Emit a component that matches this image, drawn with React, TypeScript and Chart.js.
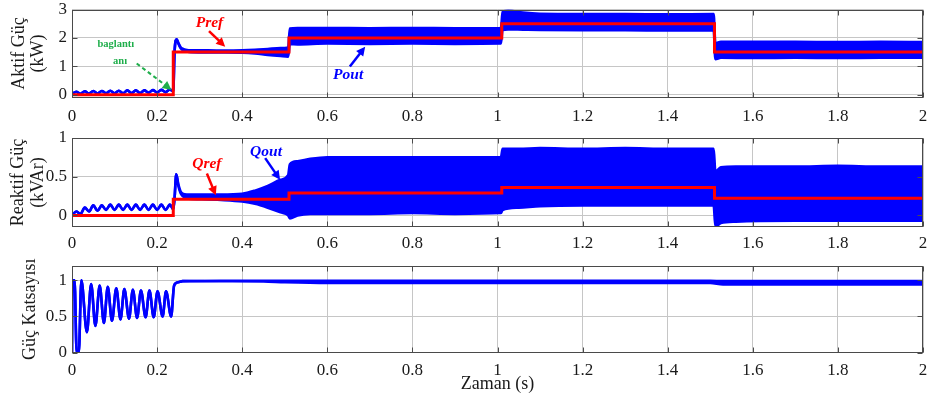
import React, { useEffect, useRef } from 'react';
import { Chart, registerables } from 'chart.js';

Chart.register(...registerables);

const FONT = "'Liberation Serif', 'Times New Roman', Times, serif";

// ---------- shared x axis ----------
const xTicks = [0, 0.2, 0.4, 0.6, 0.8, 1, 1.2, 1.4, 1.6, 1.8, 2];
const xTickLabels = ['0', '0.2', '0.4', '0.6', '0.8', '1', '1.2', '1.4', '1.6', '1.8', '2'];

// start-up ripple sample times (before connection)
const rippleT = [0, 0.01, 0.02, 0.03, 0.04, 0.05, 0.06, 0.07, 0.08, 0.09, 0.1, 0.11, 0.12, 0.13, 0.14, 0.15, 0.16, 0.17, 0.18, 0.19, 0.2, 0.21, 0.22, 0.23, 0.238];

// ---------- panel 1 : active power (kW) ----------
const pRefT = [0, 0.238, 0.51, 1.01, 1.51, 2];
const pRefLevels = [0, 1.5, 2.0, 2.5, 1.5];
const pRipple = [0.02, 0.10, 0.03, 0.12, 0.04, 0.13, 0.04, 0.13, 0.05, 0.14, 0.05, 0.14, 0.05, 0.15, 0.06, 0.15, 0.06, 0.15, 0.07, 0.16, 0.08, 0.17, 0.09, 0.18, 0.12];
const pBandT = [0.241, 0.246, 0.25, 0.255, 0.26, 0.27, 0.28, 0.32, 0.36, 0.4, 0.43, 0.46, 0.49, 0.508, 0.512, 0.53, 0.6, 0.7, 0.8, 0.9, 1.008, 1.012, 1.025, 1.06, 1.1, 1.2, 1.3, 1.4, 1.508, 1.512, 1.525, 1.6, 1.7, 1.8, 1.9, 2.0];
const pBandHi = [1.50, 1.95, 1.82, 1.68, 1.62, 1.57, 1.56, 1.56, 1.55, 1.56, 1.58, 1.61, 1.64, 1.66, 2.33, 2.35, 2.35, 2.34, 2.35, 2.34, 2.35, 2.91, 2.96, 2.89, 2.85, 2.84, 2.84, 2.83, 2.84, 1.82, 1.86, 1.86, 1.86, 1.85, 1.86, 1.85];
const pBandLo = [1.50, 1.95, 1.80, 1.64, 1.57, 1.52, 1.50, 1.49, 1.49, 1.48, 1.45, 1.40, 1.36, 1.34, 1.78, 1.77, 1.80, 1.79, 1.80, 1.79, 1.80, 2.28, 2.30, 2.29, 2.28, 2.27, 2.27, 2.26, 2.26, 1.25, 1.30, 1.29, 1.30, 1.29, 1.30, 1.30];
const pYTicks = [0, 1, 2, 3];
const pYTickLabels = ['0', '1', '2', '3'];

// ---------- panel 2 : reactive power (kVAr) ----------
const qRefT = [0, 0.238, 0.51, 1.01, 1.51, 2];
const qRefLevels = [0, 0.21, 0.29, 0.36, 0.22];
const qRipple = [0, 0.05, 0.02, 0.10, 0.05, 0.13, 0.06, 0.13, 0.07, 0.14, 0.07, 0.14, 0.07, 0.14, 0.07, 0.14, 0.07, 0.14, 0.07, 0.14, 0.07, 0.14, 0.07, 0.14, 0.08];
const qBandT = [0.241, 0.245, 0.25, 0.255, 0.26, 0.27, 0.3, 0.35, 0.4, 0.43, 0.46, 0.49, 0.508, 0.512, 0.53, 0.56, 0.6, 0.7, 0.8, 0.9, 1.008, 1.012, 1.05, 1.1, 1.2, 1.3, 1.4, 1.508, 1.512, 1.525, 1.56, 1.7, 1.8, 1.9, 2.0];
const qBandHi = [0.22, 0.53, 0.40, 0.31, 0.28, 0.27, 0.27, 0.27, 0.28, 0.32, 0.38, 0.46, 0.52, 0.66, 0.70, 0.73, 0.75, 0.75, 0.75, 0.75, 0.75, 0.86, 0.86, 0.87, 0.86, 0.87, 0.86, 0.86, 0.57, 0.62, 0.63, 0.63, 0.64, 0.63, 0.63];
const qBandLo = [0.22, 0.53, 0.38, 0.29, 0.25, 0.22, 0.21, 0.20, 0.18, 0.15, 0.10, 0.04, 0.00, -0.04, 0.00, 0.02, 0.02, 0.02, 0.03, 0.02, 0.03, 0.07, 0.10, 0.12, 0.13, 0.13, 0.13, 0.13, -0.14, -0.10, -0.08, -0.07, -0.07, -0.07, -0.07];
const qYTicks = [0, 0.5, 1];
const qYTickLabels = ['0', '0.5', '1'];

// ---------- panel 3 : power factor ----------
const pfRippleT = [0, 0.001, 0.006, 0.011, 0.016, 0.022, 0.035, 0.045, 0.055, 0.065, 0.075, 0.084, 0.094, 0.104, 0.114, 0.123, 0.134, 0.143, 0.153, 0.162, 0.173, 0.182, 0.192, 0.201, 0.213, 0.221, 0.233, 0.24, 0.25, 0.26];
const pfRipple = [0, 1, 1, 0, 0, 1, 0.28, 0.95, 0.37, 0.93, 0.41, 0.91, 0.44, 0.89, 0.46, 0.88, 0.47, 0.87, 0.48, 0.86, 0.49, 0.86, 0.49, 0.85, 0.50, 0.85, 0.50, 0.93, 0.975, 0.99];
const pfBandT = [0.35, 0.45, 0.5, 0.6, 0.8, 1.0, 1.2, 1.4, 1.5, 1.53, 1.7, 1.9, 2.0];
const pfBandHi = [0.995, 0.995, 0.995, 0.995, 0.995, 0.995, 0.995, 0.995, 0.995, 0.99, 0.99, 0.99, 0.99];
const pfBandLo = [0.988, 0.985, 0.975, 0.965, 0.965, 0.965, 0.965, 0.965, 0.965, 0.945, 0.945, 0.945, 0.945];
const pfYTicks = [0, 0.5, 1];
const pfYTickLabels = ['0', '0.5', '1'];

// ---------- annotations (data coordinates) ----------
const RED = '#ff0000';
const BLUE = '#0000ff';
const GREEN = '#1fae4b';
const NOTE_FONT = `italic bold 15.5px ${FONT}`;
const p1Notes = [
  { kind: 'text', text: 'Pref', x: 0.323, y: 2.52, color: RED, font: NOTE_FONT },
  { kind: 'arrow', x1: 0.322, y1: 2.24, x2: 0.36, y2: 1.69, color: RED, width: 2.5 },
  { kind: 'text', text: 'baglantı', x: 0.103, y: 1.78, color: GREEN, font: `bold 10.5px ${FONT}` },
  { kind: 'text', text: 'anı', x: 0.113, y: 1.19, color: GREEN, font: `bold 10.5px ${FONT}` },
  { kind: 'arrow', x1: 0.152, y1: 1.1, x2: 0.234, y2: 0.165, color: GREEN, width: 2, dash: [4, 3] },
  { kind: 'text', text: 'Pout', x: 0.649, y: 0.69, color: BLUE, font: NOTE_FONT },
  { kind: 'arrow', x1: 0.653, y1: 0.99, x2: 0.689, y2: 1.69, color: BLUE, width: 2.5 },
];
const p2Notes = [
  { kind: 'text', text: 'Qref', x: 0.317, y: 0.66, color: RED, font: NOTE_FONT },
  { kind: 'arrow', x1: 0.317, y1: 0.54, x2: 0.338, y2: 0.26, color: RED, width: 2.5 },
  { kind: 'text', text: 'Qout', x: 0.456, y: 0.82, color: BLUE, font: NOTE_FONT },
  { kind: 'arrow', x1: 0.454, y1: 0.74, x2: 0.489, y2: 0.46, color: BLUE, width: 2.5 },
];

// ---------- helpers ----------
function stepPoints(ts: number[], levels: number[]) {
  const pts: { x: number; y: number }[] = [];
  for (let i = 0; i < levels.length; i++) {
    pts.push({ x: ts[i], y: levels[i] });
    pts.push({ x: ts[i + 1], y: levels[i] });
  }
  return pts;
}
function joinPoints(t1: number[], v1: number[], t2: number[], v2: number[]) {
  return [...t1.map((t, i) => ({ x: t, y: v1[i] })), ...t2.map((t, i) => ({ x: t, y: v2[i] }))];
}

const panels = [
  {
    top: 0, height: 125, plotTop: 9.5, plotBottom: 97.5, xPad: 9,
    yMin: -0.1, yMax: 3, yTicks: pYTicks, yTickLabels: pYTickLabels,
    yTitle: ['Aktif Güç', '(kW)'], titleLH: 19.5, titlePad: 9.3,
    ref: stepPoints(pRefT, pRefLevels),
    hi: joinPoints(rippleT, pRipple, pBandT, pBandHi),
    lo: joinPoints(rippleT, pRipple, pBandT, pBandLo),
    notes: p1Notes, xTitle: null as string | null,
  },
  {
    top: 125, height: 128, plotTop: 13, plotBottom: 102, xPad: 6.5,
    yMin: -0.15, yMax: 1, yTicks: qYTicks, yTickLabels: qYTickLabels,
    yTitle: ['Reaktif Güç', '(kVAr)'], titleLH: 20.5, titlePad: 8,
    ref: stepPoints(qRefT, qRefLevels),
    hi: joinPoints(rippleT, qRipple, qBandT, qBandHi),
    lo: joinPoints(rippleT, qRipple, qBandT, qBandLo),
    notes: p2Notes, xTitle: null as string | null,
  },
  {
    top: 253, height: 145, plotTop: 13, plotBottom: 99.5, xPad: 8,
    yMin: 0, yMax: 1.2, yTicks: pfYTicks, yTickLabels: pfYTickLabels,
    yTitle: 'Güç Katsayısı', titleLH: 20, titlePad: 20,
    ref: null as any,
    hi: joinPoints(pfRippleT, pfRipple, pfBandT, pfBandHi),
    lo: joinPoints(pfRippleT, pfRipple, pfBandT, pfBandLo),
    notes: [] as any[], xTitle: 'Zaman (s)',
  },
];

function drawArrow(ctx: CanvasRenderingContext2D, x1: number, y1: number, x2: number, y2: number, color: string, width: number, dash?: number[]) {
  const ang = Math.atan2(y2 - y1, x2 - x1);
  const hl = 9, hw = 4.5;
  const cos = Math.cos(ang), sin = Math.sin(ang);
  ctx.save();
  ctx.strokeStyle = color;
  ctx.fillStyle = color;
  ctx.lineWidth = width;
  ctx.setLineDash(dash || []);
  ctx.beginPath();
  ctx.moveTo(x1, y1);
  ctx.lineTo(x2 - cos * hl * 0.8, y2 - sin * hl * 0.8);
  ctx.stroke();
  ctx.setLineDash([]);
  ctx.beginPath();
  ctx.moveTo(x2, y2);
  ctx.lineTo(x2 - hl * cos + hw * sin, y2 - hl * sin - hw * cos);
  ctx.lineTo(x2 - hl * cos - hw * sin, y2 - hl * sin + hw * cos);
  ctx.closePath();
  ctx.fill();
  ctx.restore();
}

function makeBoxPlugin(notes: any[], yTicks: number[]) {
  return {
    id: 'boxAndNotes',
    afterDatasetsDraw(chart: any) {
      const { ctx, chartArea, scales } = chart;
      const xs = scales.x, ys = scales.y;
      ctx.save();
      ctx.strokeStyle = '#4a4a4a';
      ctx.lineWidth = 1;
      const l = Math.round(chartArea.left) + 0.5, r = Math.round(chartArea.right) - 0.5;
      const t = Math.round(chartArea.top) + 0.5, b = Math.round(chartArea.bottom) - 0.5;
      ctx.strokeRect(l, t, r - l, b - t);
      ctx.beginPath();
      for (const v of xTicks) {
        const px = Math.round(xs.getPixelForValue(v)) + 0.5;
        ctx.moveTo(px, b); ctx.lineTo(px, b - 5);
        ctx.moveTo(px, t); ctx.lineTo(px, t + 5);
      }
      for (const v of yTicks) {
        const py = Math.round(ys.getPixelForValue(v)) + 0.5;
        ctx.moveTo(l, py); ctx.lineTo(l + 5, py);
        ctx.moveTo(r, py); ctx.lineTo(r - 5, py);
      }
      ctx.stroke();
      for (const n of notes) {
        if (n.kind === 'text') {
          ctx.font = n.font;
          ctx.fillStyle = n.color;
          ctx.textAlign = 'center';
          ctx.textBaseline = 'middle';
          ctx.fillText(n.text, xs.getPixelForValue(n.x), ys.getPixelForValue(n.y));
        } else {
          drawArrow(ctx, xs.getPixelForValue(n.x1), ys.getPixelForValue(n.y1), xs.getPixelForValue(n.x2), ys.getPixelForValue(n.y2), n.color, n.width, n.dash);
        }
      }
      ctx.restore();
    },
  };
}

function buildConfig(p: any): any {
  const tickFont = { family: FONT, size: 17, lineHeight: 1.0 };
  const datasets: any[] = [];
  if (p.ref) {
    datasets.push({ data: p.ref, borderColor: RED, borderWidth: 3, pointRadius: 0, pointHoverRadius: 0, fill: false, tension: 0, order: 0 });
  }
  datasets.push({ data: p.hi, borderColor: BLUE, backgroundColor: BLUE, borderWidth: 2.6, pointRadius: 0, pointHoverRadius: 0, fill: '+1', cubicInterpolationMode: 'monotone', order: 1 });
  datasets.push({ data: p.lo, borderColor: BLUE, backgroundColor: BLUE, borderWidth: 2.6, pointRadius: 0, pointHoverRadius: 0, fill: false, cubicInterpolationMode: 'monotone', order: 2 });
  return {
    type: 'line',
    data: { datasets },
    options: {
      responsive: false,
      maintainAspectRatio: false,
      animation: false,
      devicePixelRatio: 1,
      events: [],
      layout: { padding: { top: p.plotTop, right: 5, left: 0, bottom: 0 } },
      plugins: { legend: { display: false }, tooltip: { enabled: false } },
      scales: {
        x: {
          type: 'linear', min: 0, max: 2,
          afterBuildTicks: (s: any) => { s.ticks = xTicks.map((v) => ({ value: v })); },
          afterFit: (s: any) => { s.height = p.height - p.plotBottom; },
          ticks: { callback: (_v: any, i: number) => xTickLabels[i], font: { family: FONT, size: 17, lineHeight: 1.2 }, color: '#1a1a1a', padding: 0, autoSkip: false, maxRotation: 0 },
          grid: { color: '#c6c6c6', drawTicks: true, tickLength: p.xPad, tickColor: 'rgba(0,0,0,0)', lineWidth: 1 },
          border: { display: false },
          title: p.xTitle
            ? { display: true, text: p.xTitle, font: { family: FONT, size: 18, lineHeight: 1.1 }, color: '#1a1a1a', padding: { top: 0, bottom: 4 } }
            : { display: false },
        },
        y: {
          type: 'linear', min: p.yMin, max: p.yMax,
          afterBuildTicks: (s: any) => { s.ticks = p.yTicks.map((v: number) => ({ value: v })); },
          afterFit: (s: any) => { s.width = 72; },
          ticks: { callback: (_v: any, i: number) => p.yTickLabels[i], font: tickFont, color: '#1a1a1a', padding: 0, autoSkip: false },
          grid: { color: '#c6c6c6', drawTicks: true, tickLength: 5, tickColor: 'rgba(0,0,0,0)', lineWidth: 1 },
          border: { display: false },
          title: { display: true, text: p.yTitle, font: { family: FONT, size: 18, lineHeight: p.titleLH / 18 }, color: '#1a1a1a', padding: { top: p.titlePad, bottom: 0 } },
        },
      },
    },
    plugins: [makeBoxPlugin(p.notes, p.yTicks)],
  };
}

function PanelChart({ cfg }: { cfg: any }) {
  const ref = useRef<HTMLCanvasElement>(null);
  useEffect(() => {
    const chart = new Chart(ref.current as HTMLCanvasElement, buildConfig(cfg));
    return () => chart.destroy();
  }, [cfg]);
  return (
    <canvas
      ref={ref}
      width={928}
      height={cfg.height}
      style={{ position: 'absolute', left: 0, top: cfg.top, width: 928, height: cfg.height, display: 'block' }}
    />
  );
}

export default function App() {
  return (
    <div style={{ position: 'fixed', left: 0, top: 0, width: 928, height: 398, background: '#ffffff', overflow: 'hidden' }}>
      {panels.map((p, i) => (
        <PanelChart key={i} cfg={p} />
      ))}
    </div>
  );
}
